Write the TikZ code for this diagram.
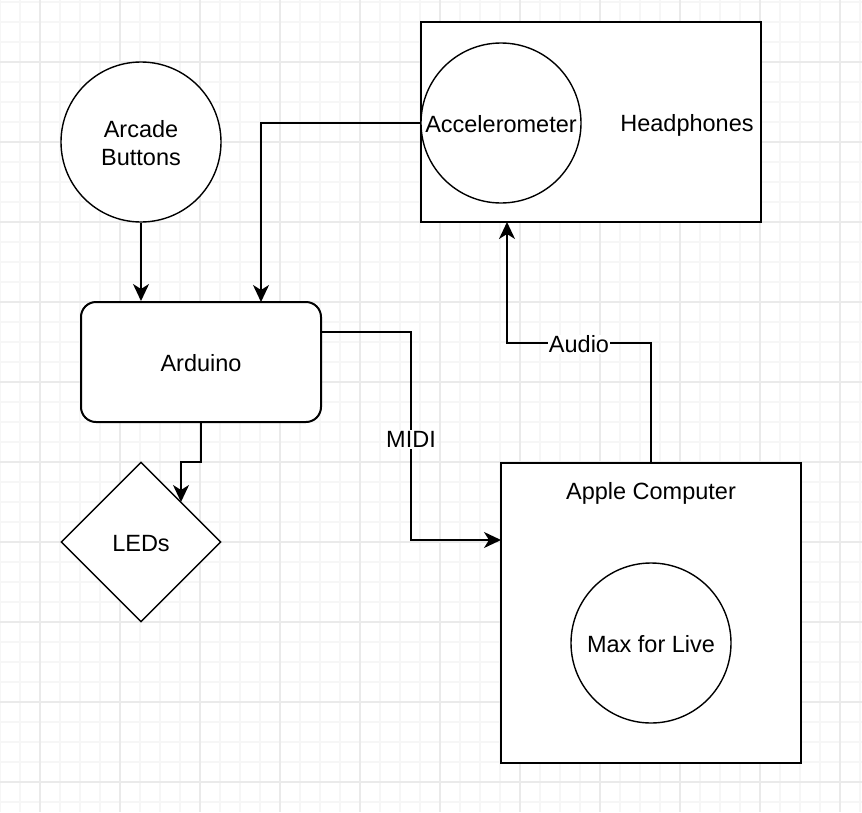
\documentclass[tikz,border=0pt]{standalone}
\usepackage{fontspec}
\setmainfont{Liberation Sans}
\usetikzlibrary{shapes.geometric,arrows.meta,calc}
\definecolor{gridminor}{HTML}{F6F6F6}
\definecolor{gridmajor}{HTML}{EAEAEA}
\begin{document}
\begin{tikzpicture}[x=1pt,y=-1pt,
  every node/.style={font=\fontsize{23.5}{28}\selectfont, inner sep=0pt},
  txt/.style={align=center, yshift=-1.5pt},
  boxshape/.style={draw, line width=2pt, rectangle},
  roundshape/.style={draw, line width=1.4pt, circle, minimum size=160pt},
  diashape/.style={draw, line width=1.4pt, diamond, aspect=1, minimum size=160pt},
  rbox/.style={draw, line width=2pt, rectangle, rounded corners=15pt, minimum width=240pt, minimum height=120pt},
  arr/.style={line width=1.8pt, -{Stealth[length=17pt,width=16pt,inset=5pt]}},
  lbl/.style={fill=white, inner sep=1pt}
]
\useasboundingbox (0,0) rectangle (862,812);
\fill[white] (0,0) rectangle (862,812);
% grid
\foreach \i in {0,20,...,860} \draw[gridminor, line width=1.2pt] (\i,0) -- (\i,812);
\foreach \j in {2,22,...,802} \draw[gridminor, line width=1.2pt] (0,\j) -- (862,\j);
\foreach \i in {40,120,...,840} \draw[gridmajor, line width=1.4pt] (\i,0) -- (\i,812);
\foreach \j in {62,142,...,782} \draw[gridmajor, line width=1.4pt] (0,\j) -- (862,\j);

% shapes
\node[boxshape, fill=white, minimum width=340pt, minimum height=200pt] (head) at (591,122) {};
\node[roundshape, fill=white] (accel) at (501,123) {};
\node[roundshape, fill=white] (arcade) at (141,142) {};
\node[rbox, fill=white] (arduino) at (201,362) {};
\node[diashape, fill=white] (leds) at (141,542) {};
\node[boxshape, fill=white, minimum width=300pt, minimum height=300pt] (apple) at (651,613) {};
\node[roundshape, fill=white] (max) at (651,643) {};

% texts
\node[txt] (acceltext) at (accel) {Accelerometer};
\node[txt] (headlabel) at (687,124) {Headphones};
\node[txt] (arcadetext) at (arcade) {Arcade\\Buttons};
\node[txt] (arduinotext) at (arduino) {Arduino};
\node[txt] (ledstext) at (leds) {LEDs};
\node[txt] (applelabel) at (651,492) {Apple Computer};
\node[txt] (maxtext) at (max) {Max for Live};

% coordinates
\coordinate (ardin2) at (261,302);
\coordinate (ledbend) at (181,462);
\coordinate (ledin) at (181,502);
\coordinate (midiout) at (321,332);
\coordinate (midimid) at (411,438);
\coordinate (midiin) at (501,540);
\coordinate (audio1) at (651,343);
\coordinate (audio2) at (507,343);
\coordinate (audioin) at (507,222);

% connectors
\draw[arr] (arcade.south) -- (arcade.south |- arduino.north);
\draw[arr] (accel.west) -| (ardin2);
\draw[arr] (arduino.south) |- (ledbend) -- (ledin);
\draw[arr] (midiout) -| (midimid) |- (midiin);
\node[lbl, txt] (midilabel) at (midimid) {MIDI};
\draw[arr] (apple.north) -- (audio1) -- (audio2) -- (audioin);
\node[lbl, txt] (audiolabel) at ($(audio1)!0.5!(audio2)$) {Audio};
\end{tikzpicture}
\end{document}
